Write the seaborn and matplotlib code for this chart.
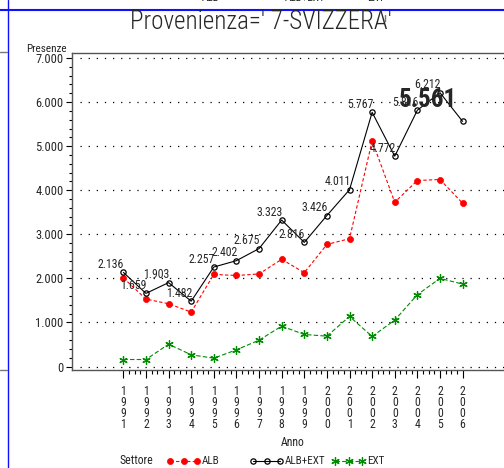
"""Presenze per anno, Provenienza 7-SVIZZERA."""
import matplotlib
matplotlib.use("Agg")
import matplotlib.pyplot as plt
from matplotlib.lines import Line2D
from matplotlib.ticker import FixedLocator, FuncFormatter
import seaborn as sns

years = list(range(1991, 2007))
alb = [2010, 1530, 1424, 1235, 2090, 2065, 2100, 2432, 2129, 2770, 2900,
       5120, 3727, 4220, 4243, 3705]
alb_ext = [2136, 1659, 1903, 1482, 2257, 2402, 2675, 3323, 2816, 3426, 4011,
           5767, 4772, 5816, 6212, 5561]
ext = [159, 159, 507, 266, 189, 379, 598, 916, 727, 689, 1136, 682, 1053,
       1630, 2000, 1870]
legend_names = ["ALB", "ALB+EXT", "EXT"]
title = "Provenienza=' 7-SVIZZERA'"

W, H = 504, 468
sns.set_style("white")
plt.rcParams["font.family"] = ["Roboto Condensed", "DejaVu Sans"]

fig = plt.figure(figsize=(W / 100, H / 100), dpi=100)
ax = fig.add_axes([72 / W, 98 / H, 432 / W, 317 / H])

styles = {
    "ALB": dict(color="#ff0000", linestyle=(0, (3, 2)), marker="o",
                markersize=4.4, markeredgewidth=0.5, markeredgecolor="#ff0000"),
    "ALB+EXT": dict(color="black", linestyle="-", marker="o", markersize=3.8,
                    markerfacecolor="none", markeredgewidth=0.9,
                    markeredgecolor="black"),
    "EXT": dict(color="#008c00", linestyle=(0, (4, 2)), marker=(6, 2, 0),
                markersize=6, markeredgewidth=0.9, markeredgecolor="#008c00"),
}
series = {"ALB": alb, "ALB+EXT": alb_ext, "EXT": ext}
for name in legend_names:
    sns.lineplot(x=years, y=series[name], ax=ax, linewidth=0.8, **styles[name])

# labels on the total
for i, (x, v) in enumerate(zip(years, alb_ext)):
    txt = f"{v:,}".replace(",", ".")
    if i == len(years) - 1:
        ax.annotate(txt, (x, v), xytext=(-6, 21), textcoords="offset pixels",
                    ha="right", va="center", fontsize=18, fontweight="bold")
    else:
        ax.annotate(txt, (x, v), xytext=(1, 8), textcoords="offset pixels",
                    ha="right", va="center", fontsize=8.5)

ax.set_xlim(1988.73, 2007.83)
ax.set_ylim(-79, 7113)

for y in range(0, 7001, 1000):
    ax.plot([1989.1, 2007.83], [y, y], color="black", lw=0.9,
            linestyle=(0, (1, 5.5)), zorder=0)

ax.xaxis.set_major_locator(FixedLocator(years))
ax.xaxis.set_minor_locator(FixedLocator(
    [y + q / 4 for y in years[:-1] for q in (1, 2, 3)]))
ax.set_xticklabels(["\n".join(str(y)) for y in years], fontsize=8.5,
                   linespacing=0.78)
ax.yaxis.set_major_locator(FixedLocator(range(0, 7001, 1000)))
ax.yaxis.set_minor_locator(FixedLocator(range(0, 7001, 200)))
ax.yaxis.set_major_formatter(
    FuncFormatter(lambda v, p: f"{int(v):,}".replace(",", ".")))
ax.tick_params(axis="both", which="both", direction="out", color="black",
               width=0.8)
ax.tick_params(axis="x", which="major", length=6, pad=5)
ax.tick_params(axis="x", which="minor", length=3)
ax.tick_params(axis="y", which="major", length=4, pad=2, labelsize=9)
ax.tick_params(axis="y", which="minor", length=2.5)
ax.tick_params(left=True, bottom=True, which="both")
for s in ("left", "bottom", "top"):
    ax.spines[s].set_color("#555555")
    ax.spines[s].set_linewidth(1.0)
ax.spines["right"].set_visible(False)
ax.set_xlabel("")
ax.set_ylabel("")

fig.text(67 / W, 1 - 49 / H, "Presenze", ha="right", va="center", fontsize=8)
fig.text(293 / W, 1 - 443 / H, "Anno", ha="center", va="center", fontsize=8.5)
fig.text(261 / W, 1 - 22 / H, title, ha="center", va="center", fontsize=18,
         fontweight="light")

# legend at the bottom and the cut-off one at the top
leg_y = 1 - 461 / H
starts = [170, 253, 335]
fig.text(119 / W, leg_y, "Settore", ha="left", va="center", fontsize=8.5)
fig.text(119 / W, 1 - 3 / H, "Settore", ha="left", va="bottom", fontsize=8.5)
for x0, name in zip(starts, legend_names):
    st = dict(styles[name])
    fig.add_artist(Line2D([x0 / W, (x0 + 13.5) / W, (x0 + 27) / W],
                          [leg_y] * 3, transform=fig.transFigure,
                          linewidth=0.8, **st))
    fig.text((x0 + 32) / W, leg_y, name, ha="left", va="center", fontsize=8)
    fig.text((x0 + 32) / W, 1 - 3 / H, name, ha="left", va="bottom",
             fontsize=8)

# page decorations
fig.add_artist(Line2D([0, 1], [1 - 10 / H] * 2, transform=fig.transFigure,
                      color="#1010ff", lw=1.5))
fig.add_artist(Line2D([7.5 / W] * 2, [0, 1], transform=fig.transFigure,
                      color="#1010ff", lw=1.0))
for yy in (52, 370):
    fig.add_artist(Line2D([0, 7 / W], [1 - yy / H] * 2,
                          transform=fig.transFigure, color="#777777", lw=1.0))
fig.add_artist(Line2D([384.5 / W] * 2, [1 - 15 / H, 1 - 21 / H],
                      transform=fig.transFigure, color="#777777", lw=1.0))

fig.savefig("out.png", dpi=100)
plt.close(fig)
